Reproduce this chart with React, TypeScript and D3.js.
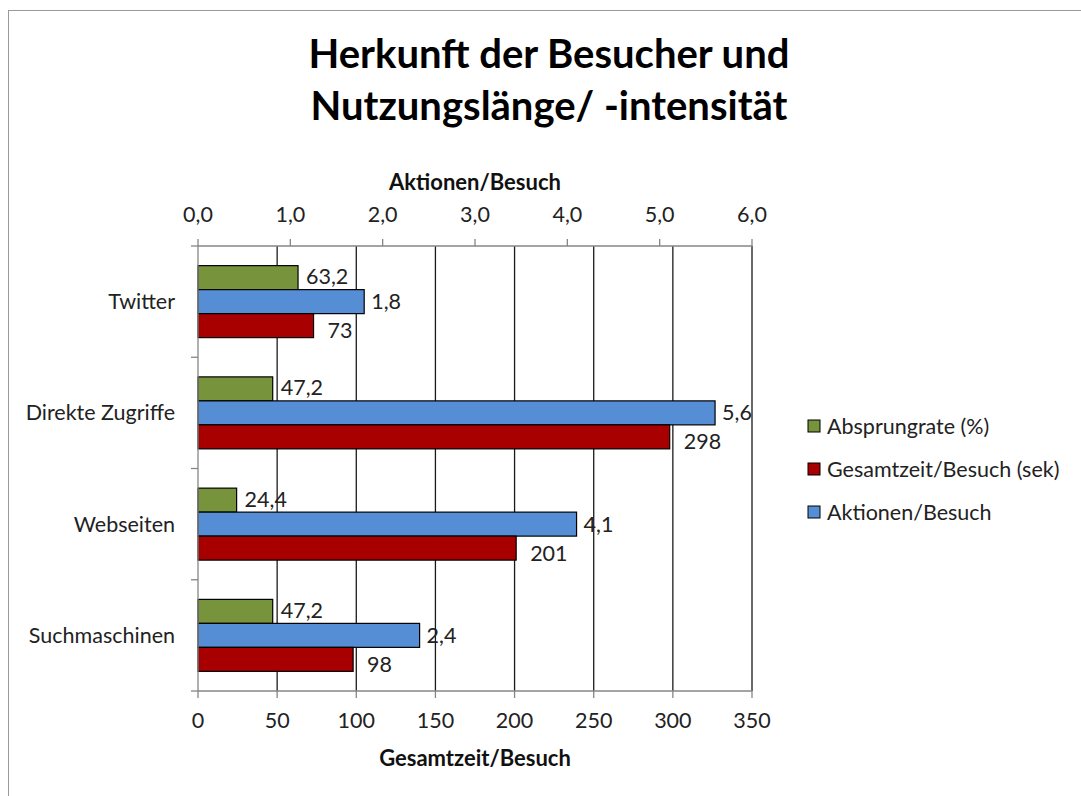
import React from "react";
import * as d3 from "d3";

// chart values
const categories = ["Twitter", "Direkte Zugriffe", "Webseiten", "Suchmaschinen"];
const absprungrate = [63.2, 47.2, 24.4, 47.2];
const aktionenProBesuch = [1.8, 5.6, 4.1, 2.4];
const gesamtzeitProBesuch = [73, 298, 201, 98];
const bottomTicks = [0, 50, 100, 150, 200, 250, 300, 350];
const topTicks = [0, 1, 2, 3, 4, 5, 6];
const titleLines = ["Herkunft der Besucher und", "Nutzungslänge/ -intensität"];

const de = d3.formatLocale({ decimal: ",", thousands: ".", grouping: [3], currency: ["", " €"] });
const fmt1 = de.format(".1f");
const fmt0 = de.format("d");

const FONT = "Lato, 'Open Sans', sans-serif";
const LABEL_SIZE = 21.5;

export default function App() {
  const width = 1081;
  const height = 796;
  const plot = { left: 198, right: 752, top: 246, bottom: 691 };

  const xBottom = d3.scaleLinear().domain([0, 350]).range([plot.left, plot.right]);
  const xTop = d3.scaleLinear().domain([0, 6]).range([plot.left, plot.right]);
  const y = d3.scaleBand<string>().domain(categories).range([plot.top, plot.bottom]).paddingInner(0.353).paddingOuter(0.1765);

  // bar order inside a category, top to bottom
  const series = [
    { key: "abs", name: "Absprungrate (%)", values: absprungrate, color: "#77933C", scale: xBottom, format: fmt1, dx: 8, dy: -1 },
    { key: "akt", name: "Aktionen/Besuch", values: aktionenProBesuch, color: "#558ED5", scale: xTop, format: fmt1, dx: 7, dy: 0 },
    { key: "ges", name: "Gesamtzeit/Besuch (sek)", values: gesamtzeitProBesuch, color: "#A80000", scale: xBottom, format: fmt0, dx: 14, dy: 5 },
  ];
  const legendOrder = ["abs", "ges", "akt"];

  const inner = d3.scaleBand<string>().domain(series.map(s => s.key)).range([0, y.bandwidth()]);

  const boundaries = d3.range(categories.length + 1).map(i => plot.top + i * y.step());

  return (
    <svg width={width} height={height} style={{ position: "absolute", left: 0, top: 0, background: "#fff" }} fontFamily={FONT}>
      <rect x={8.5} y={10.5} width={width + 20} height={height + 20} fill="#fff" stroke="#9a9a9a" strokeWidth={1} />

      {/* title */}
      {titleLines.map((t, i) => (
        <text key={t} x={549} y={68 + i * 52} textAnchor="middle" fontSize={40} fontWeight="bold" fill="#000">{t}</text>
      ))}

      {/* gridlines from the bottom axis */}
      {bottomTicks.slice(1).map(t => (
        <line key={"g" + t} x1={xBottom(t)} x2={xBottom(t)} y1={plot.top} y2={plot.bottom} stroke="#1a1a1a" strokeWidth={1.3} />
      ))}

      {/* bars */}
      {series.map(s => (
        <g key={s.key}>
          {categories.map((c, i) => {
            const y0 = (y(c) ?? 0) + (inner(s.key) ?? 0);
            const x1 = s.scale(s.values[i]);
            return (
              <g key={c}>
                <rect x={plot.left} y={y0} width={x1 - plot.left} height={inner.bandwidth()} fill={s.color} stroke="#000" strokeWidth={1.2} />
                <text x={x1 + s.dx} y={y0 + inner.bandwidth() / 2 + s.dy} dy="0.35em" fontSize={LABEL_SIZE} fill="#222">{s.format(s.values[i])}</text>
              </g>
            );
          })}
        </g>
      ))}

      {/* top axis (Aktionen/Besuch) */}
      <line x1={plot.left} x2={plot.right} y1={plot.top} y2={plot.top} stroke="#868686" strokeWidth={1.3} />
      {topTicks.map(t => (
        <g key={"t" + t}>
          <line x1={xTop(t)} x2={xTop(t)} y1={plot.top} y2={plot.top - 7} stroke="#868686" strokeWidth={1.3} />
          <text x={xTop(t)} y={214} dy="0.35em" textAnchor="middle" fontSize={LABEL_SIZE} fill="#222">{fmt1(t)}</text>
        </g>
      ))}
      <text x={475} y={182} dy="0.35em" textAnchor="middle" fontSize={22} fontWeight="bold" fill="#111">Aktionen/Besuch</text>

      {/* bottom axis (Gesamtzeit/Besuch) */}
      <line x1={plot.left} x2={plot.right} y1={plot.bottom} y2={plot.bottom} stroke="#868686" strokeWidth={1.3} />
      {bottomTicks.map(t => (
        <g key={"b" + t}>
          <line x1={xBottom(t)} x2={xBottom(t)} y1={plot.bottom} y2={plot.bottom + 7} stroke="#868686" strokeWidth={1.3} />
          <text x={xBottom(t)} y={720} dy="0.35em" textAnchor="middle" fontSize={LABEL_SIZE} fill="#222">{fmt0(t)}</text>
        </g>
      ))}
      <text x={475} y={758} dy="0.35em" textAnchor="middle" fontSize={22} fontWeight="bold" fill="#111">Gesamtzeit/Besuch</text>

      {/* category axis */}
      <line x1={plot.left} x2={plot.left} y1={plot.top} y2={plot.bottom} stroke="#868686" strokeWidth={1.3} />
      {boundaries.map(b => (
        <line key={"c" + b} x1={plot.left - 7} x2={plot.left} y1={b} y2={b} stroke="#868686" strokeWidth={1.3} />
      ))}
      {categories.map(c => (
        <text key={c} x={175} y={(y(c) ?? 0) + y.bandwidth() / 2} dy="0.35em" textAnchor="end" fontSize={LABEL_SIZE} fill="#222">{c}</text>
      ))}

      {/* legend */}
      {legendOrder.map((k, i) => {
        const s = series.find(d => d.key === k)!;
        const ly = 426 + i * 43;
        return (
          <g key={k}>
            <rect x={808} y={ly - 6} width={12} height={12} fill={s.color} stroke="#000" strokeWidth={1} />
            <text x={827} y={ly} dy="0.35em" fontSize={LABEL_SIZE} fill="#222">{s.name}</text>
          </g>
        );
      })}
    </svg>
  );
}
